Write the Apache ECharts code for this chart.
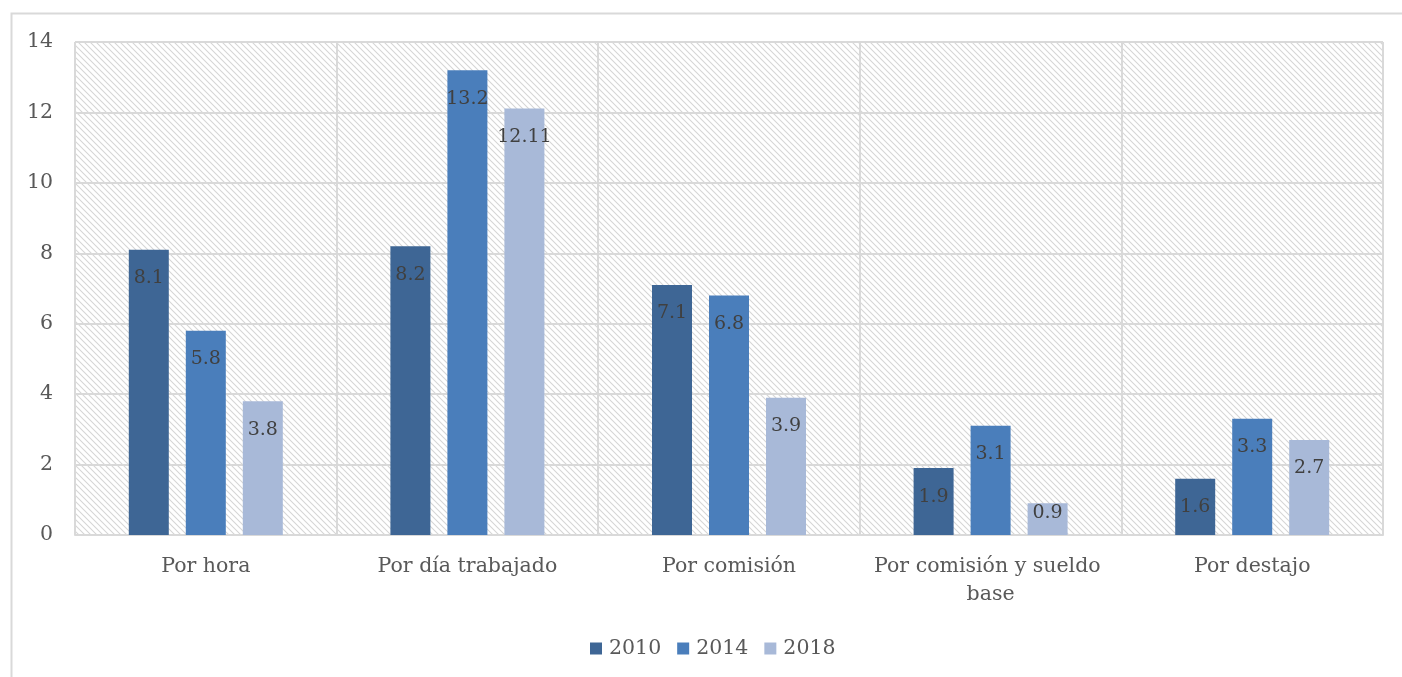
<!DOCTYPE html>
<html><head><meta charset="utf-8">
<script src="https://cdn.jsdelivr.net/npm/echarts@6/dist/echarts.min.js"></script>
<style>html,body{margin:0;padding:0;background:#fff}#c{width:1402px;height:677px}</style>
</head><body><div id="c"></div>
<script>
const categories = ["Por hora", "Por día trabajado", "Por comisión", "Por comisión y sueldo base", "Por destajo"];
const years = ["2010", "2014", "2018"];
const values2010 = [8.1, 8.2, 7.1, 1.9, 1.6];
const values2014 = [5.8, 13.2, 6.8, 3.1, 3.3];
const values2018 = [3.8, 12.11, 3.9, 0.9, 2.7];
const yTicks = [0, 2, 4, 6, 8, 10, 12, 14];
const colors = ["#3E6695", "#4A7EBB", "#A8B9D8"];

const FONT = "DejaVu Serif";
function hatch() {
  const s = 6;
  const cv = document.createElement('canvas');
  cv.width = s; cv.height = s;
  const ctx = cv.getContext('2d');
  ctx.fillStyle = '#ffffff'; ctx.fillRect(0, 0, s, s);
  ctx.strokeStyle = '#d6d6d6'; ctx.lineWidth = 1.1;
  ctx.beginPath();
  ctx.moveTo(-1, -1); ctx.lineTo(s + 1, s + 1);
  ctx.moveTo(-1 - s, -1); ctx.lineTo(1, s + 1);
  ctx.moveTo(s - 1, -1); ctx.lineTo(2 * s + 1, s + 1);
  ctx.stroke();
  return { image: cv, repeat: 'repeat' };
}
const chart = echarts.init(document.getElementById('c'), null, { renderer: 'canvas' });
const series = [values2010, values2014, values2018].map((d, i) => ({
  name: years[i], type: 'bar', barWidth: 40, barGap: '42.5%',
  data: d.map(v => v < 1.2 ? { value: v, label: { distance: 0 } } : v),
  itemStyle: { color: colors[i] },
  label: { show: true, position: 'insideTop', distance: 19, color: '#404040', fontFamily: FONT, fontSize: 19 }
}));
chart.setOption({
  animation: false,
  textStyle: { fontFamily: FONT },
  graphic: [{ type: 'rect', left: 9, top: 11, shape: { width: 1420, height: 700 }, style: { fill: 'none', stroke: '#d9d9d9', lineWidth: 2 }, z: -10 }],
  grid: { left: 75, right: 19, top: 42, bottom: 142, show: true, backgroundColor: hatch(), borderWidth: 0 },
  legend: { top: 633, left: 585, itemWidth: 12, itemHeight: 12, itemGap: 16, icon: 'rect',
    textStyle: { fontFamily: FONT, fontSize: 20.5, color: '#595959', padding: [0, 0, 0, 2] }, data: years },
  xAxis: { type: 'category', data: categories,
    axisLine: { lineStyle: { color: '#d9d9d9', width: 2 } }, axisTick: { show: false },
    splitLine: { show: true, lineStyle: { color: '#d9d9d9', width: 2 } },
    axisLabel: { color: '#595959', fontFamily: FONT, fontSize: 20.5, margin: 18, lineHeight: 28, width: 245, overflow: 'break', interval: 0 } },
  yAxis: { type: 'value', min: 0, max: 14, interval: 2,
    axisLine: { show: false }, axisTick: { show: false },
    splitLine: { lineStyle: { color: '#d9d9d9', width: 2 } },
    axisLabel: { color: '#595959', fontFamily: FONT, fontSize: 20.5, margin: 22 } },
  series
});
</script></body></html>
